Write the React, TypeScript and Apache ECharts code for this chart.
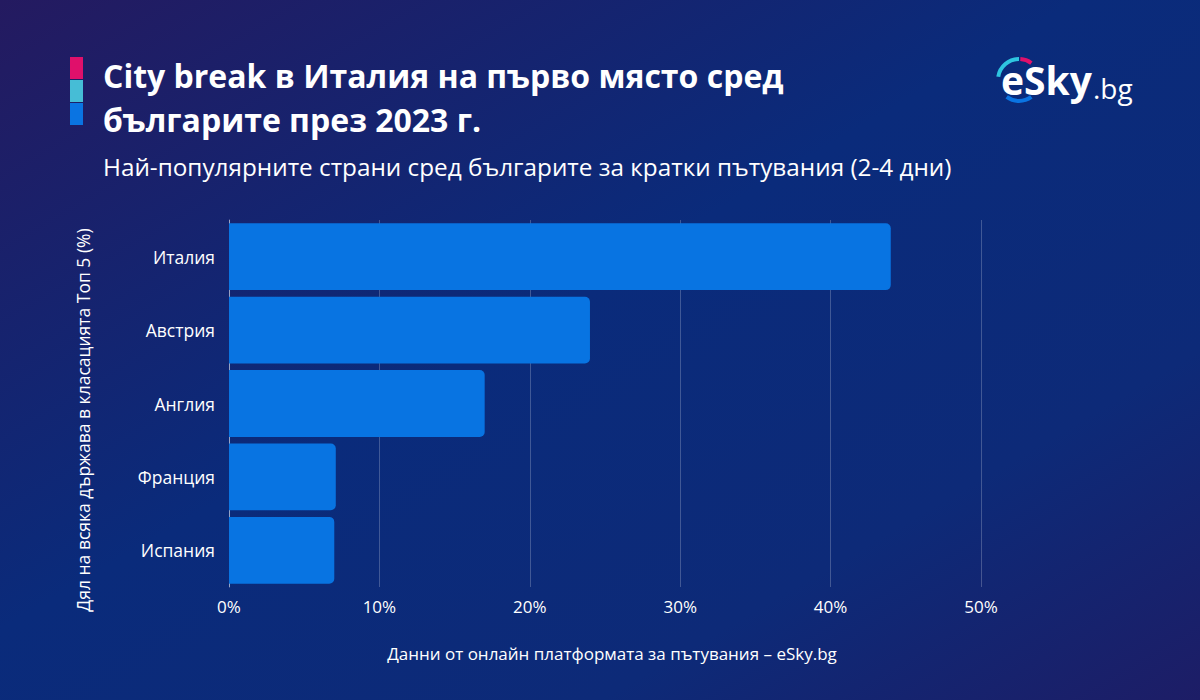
import React, { useEffect, useRef } from "react";
import * as echarts from "echarts";

const categories = ["Италия", "Австрия", "Англия", "Франция", "Испания"];
const values = [44, 24, 17, 7.1, 7];
const xTicks = [0, 10, 20, 30, 40, 50];

const titleLine1 = "City break в Италия на първо място сред";
const titleLine2 = "българите през 2023 г.";
const subtitle = "Най-популярните страни сред българите за кратки пътувания (2-4 дни)";
const yName = "Дял на всяка държава в класацията Топ 5 (%)";
const source = "Данни от онлайн платформата за пътувания – eSky.bg";

const FONT = "'Open Sans', 'Noto Sans', sans-serif";

export default function App() {
  const ref = useRef<HTMLDivElement>(null);
  useEffect(() => {
    document.body.style.margin = "0";
    const chart = echarts.init(ref.current!, undefined, { renderer: "svg" });
    chart.setOption({
      animation: false,
      backgroundColor: {
        type: "linear",
        x: 0, y: 0, x2: 1, y2: 1,
        colorStops: [
          { offset: 0, color: "#241a60" },
          { offset: 0.45, color: "#0a2b7b" },
          { offset: 0.75, color: "#0d2a78" },
          { offset: 1, color: "#1d1d66" },
        ],
      },
      grid: { left: 229, right: 219, top: 220, bottom: 113 },
      xAxis: {
        type: "value",
        min: 0,
        max: 50,
        interval: 10,
        axisLine: { show: false },
        axisTick: { show: false },
        splitLine: { show: true, lineStyle: { color: "rgba(255,255,255,0.22)", width: 1 } },
        axisLabel: {
          color: "#ffffff",
          fontSize: 17,
          fontFamily: FONT,
          margin: 11,
          formatter: (v: number) => (xTicks.includes(v) ? v + "%" : ""),
        },
      },
      yAxis: {
        type: "category",
        data: categories,
        inverse: true,
        axisLine: { show: true, lineStyle: { color: "rgba(255,255,255,0.45)", width: 1 } },
        axisTick: { show: false },
        axisLabel: { color: "#ffffff", fontSize: 17.5, fontFamily: FONT, margin: 14 },
      },
      series: [
        {
          type: "bar",
          data: values,
          barCategoryGap: "9%",
          itemStyle: { color: "#0874e2", borderRadius: [0, 5, 5, 0] },
        },
      ],
      graphic: [
        { type: "rect", shape: { x: 70, y: 57, width: 13, height: 22 }, style: { fill: "#e0106b" } },
        { type: "rect", shape: { x: 70, y: 80, width: 13, height: 22 }, style: { fill: "#46bdd6" } },
        { type: "rect", shape: { x: 70, y: 103, width: 13, height: 22 }, style: { fill: "#0a74e2" } },
        {
          type: "text", left: 103, top: 59,
          style: { text: titleLine1, fill: "#ffffff", fontSize: 32, fontWeight: "bold", fontFamily: FONT },
        },
        {
          type: "text", left: 103, top: 103,
          style: { text: titleLine2, fill: "#ffffff", fontSize: 32, fontWeight: "bold", fontFamily: FONT },
        },
        {
          type: "text", left: 103, top: 154,
          style: { text: subtitle, fill: "#ffffff", fontSize: 24.3, fontFamily: FONT },
        },
        {
          type: "text", x: 83, y: 420, rotation: Math.PI / 2,
          style: { text: yName, fill: "#ffffff", fontSize: 17.5, fontFamily: FONT, align: "center", verticalAlign: "middle" },
        },
        {
          type: "text", x: 612, y: 653,
          style: { text: source, fill: "#ffffff", fontSize: 17, fontFamily: FONT, align: "center", verticalAlign: "middle" },
        },
        // logo
        {
          type: "arc",
          shape: { cx: 1019, cy: 80, r: 21, startAngle: Math.PI * 1.05, endAngle: Math.PI * 1.5 },
          style: { stroke: "#2ec5e0", lineWidth: 4, fill: "none" },
        },
        {
          type: "arc",
          shape: { cx: 1019, cy: 80, r: 21, startAngle: Math.PI * 1.52, endAngle: Math.PI * 1.7 },
          style: { stroke: "#e0106b", lineWidth: 4, fill: "none" },
        },
        {
          type: "arc",
          shape: { cx: 1019, cy: 80, r: 21, startAngle: Math.PI * 0.3, endAngle: Math.PI * 0.7 },
          style: { stroke: "#0a74e2", lineWidth: 4, fill: "none" },
        },
        {
          type: "text", x: 1001, y: 79,
          style: { text: "eSky", fill: "#ffffff", fontSize: 39, fontWeight: "bold", fontFamily: FONT, verticalAlign: "middle" },
        },
        {
          type: "text", x: 1093, y: 88,
          style: { text: ".bg", fill: "#ffffff", fontSize: 28, fontFamily: FONT, verticalAlign: "middle" },
        },
      ],
    });
    return () => chart.dispose();
  }, []);
  return <div ref={ref} style={{ width: 1200, height: 700 }} />;
}
